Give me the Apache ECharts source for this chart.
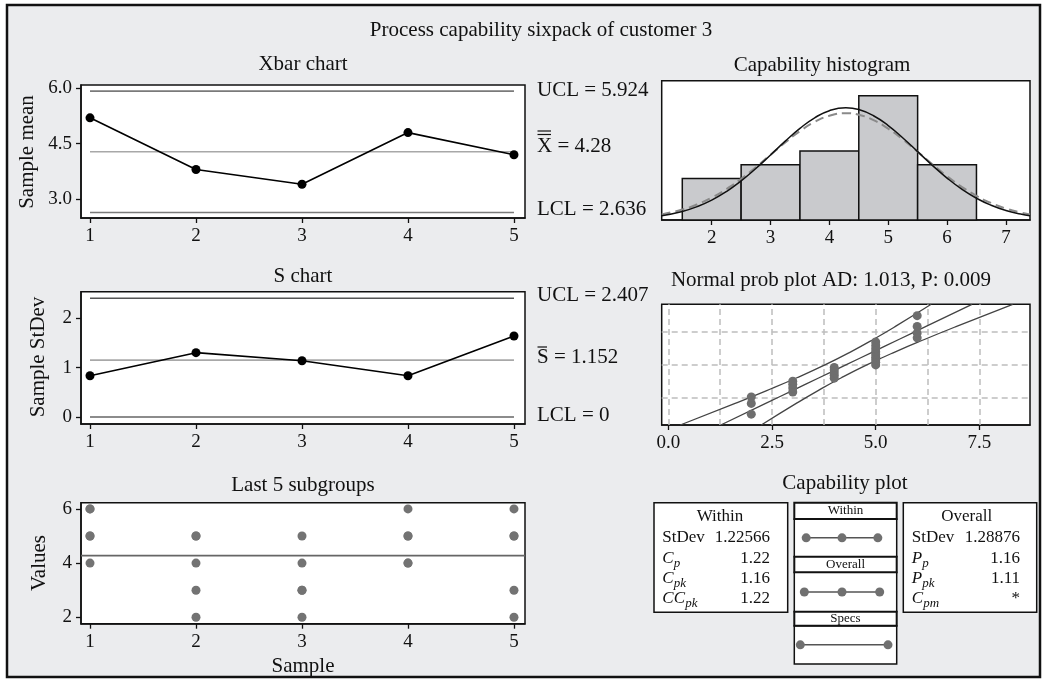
<!DOCTYPE html>
<html><head><meta charset="utf-8">
<script src="https://cdn.jsdelivr.net/npm/echarts@6/dist/echarts.min.js"></script>
<style>html,body{margin:0;padding:0;background:#fff}#c{width:1046px;height:683px}</style>
</head><body><div id="c"></div>
<script>
// ---------- data ----------
const samples=[1,2,3,4,5];
const sampleMeans=[5.2,3.8,3.4,4.8,4.2];
const xbarLimits={ucl:5.924,center:4.28,lcl:2.636};
const xbarTicks=[3,4.5,6];
const sampleStDevs=[0.837,1.304,1.140,0.837,1.643];
const sLimits={ucl:2.407,center:1.152,lcl:0};
const sTicks=[0,1,2];
const subgroupValues=[[6,6,5,5,4],[5,5,4,3,2],[5,4,3,3,2],[6,5,5,4,4],[6,5,5,3,2]];
const valueTicks=[2,4,6];
const histBins=[2,3,4,5,6];
const histCounts=[3,4,5,9,4];
const histTicks=[2,3,4,5,6,7];
const curveX=[1.15,1.5,1.75,2,2.25,2.5,2.75,3,3.25,3.5,3.75,4,4.28,4.5,4.75,5,5.25,5.5,5.75,6,6.25,6.5,6.75,7,7.25,7.41];
const withinCurve=[0.312,0.622,0.967,1.443,2.064,2.835,3.733,4.717,5.716,6.646,7.410,7.927,8.137,8.007,7.560,6.847,5.949,4.958,3.964,3.040,2.236,1.578,1.068,0.694,0.432,0.312];
const overallCurve=[0.405,0.755,1.127,1.618,2.238,2.982,3.825,4.726,5.623,6.444,7.111,7.559,7.739,7.627,7.241,6.621,5.830,4.944,4.038,3.176,2.406,1.755,1.233,0.834,0.544,0.405];
const probValues=[2,2,2,3,3,3,3,4,4,4,4,4,5,5,5,5,5,5,5,5,5,6,6,6,6];
const probScores=[-1.918,-1.499,-1.247,-1.055,-0.896,-0.757,-0.632,-0.515,-0.406,-0.301,-0.199,-0.099,0,0.099,0.199,0.301,0.406,0.515,0.632,0.757,0.896,1.055,1.247,1.499,1.918];
const probZ=[-2.34,-1.5,-1,-0.5,0,0.5,1,1.5,2.36];
const probFit=[1.264,2.347,2.991,3.636,4.28,4.924,5.569,6.213,7.321];
const probLower=[0.287,1.610,2.372,3.100,3.775,4.388,4.950,5.476,6.338];
const probUpper=[2.241,3.084,3.610,4.172,4.785,5.460,6.188,6.950,8.304];
const probTicks=[0,2.5,5,7.5];
const probGridX=[0,1.25,2.5,3.75,5,6.25,7.5];
const probGridZ=[-1.2816,0,1.2816];
const withinInterval=[0.603,4.28,7.957];
const overallInterval=[0.414,4.28,8.146];
const specLimits=[0,9];
const withinLabels=['StDev','C|p','C|pk','CC|pk'];
const withinValues=['1.22566','1.22','1.16','1.22'];
const overallLabels=['StDev','P|p','P|pk','C|pm'];
const overallValues=['1.28876','1.16','1.11','*'];

// ---------- helpers ----------
const FF='"Liberation Serif", "Times New Roman", serif';
const g=[];
function T(x,y,text,size,align,extra){
  const st=Object.assign({text:text,x:0,y:0,fill:'#111',font:(extra&&extra.italic?'italic ':'')+size+'px '+FF,
    align:align||'center',verticalAlign:'middle',textAlign:align||'center',textVerticalAlign:'middle'},{});
  g.push({type:'text',x:x,y:y,rotation:(extra&&extra.rot)||0,z:100,style:st});
}
function L(x1,y1,x2,y2,w,c){g.push({type:'line',z:100,shape:{x1:x1,y1:y1,x2:x2,y2:y2},style:{stroke:c||'#111',lineWidth:w||1}});}
function R(x,y,w,h,lw){g.push({type:'rect',z:90,shape:{x:x,y:y,width:w,height:h},style:{fill:'#fff',stroke:'#111',lineWidth:lw||1.5}});}

// frame
g.push({type:'rect',z:-100,shape:{x:7,y:5,width:1033,height:672},style:{fill:'#ebecee',stroke:'#111',lineWidth:2.5}});
// titles
T(541,30,'Process capability sixpack of customer 3',21);
T(303,64,'Xbar chart',21);
T(303,276,'S chart',21);
T(303,485,'Last 5 subgroups',21);
T(822,65,'Capability histogram',21);
T(831,280,'Normal prob plot AD: 1.013, P: 0.009',21);
T(845,483,'Capability plot',21);
// axis names
T(27,152,'Sample mean',21,'center',{rot:Math.PI/2});
T(38,357,'Sample StDev',21,'center',{rot:Math.PI/2});
T(39,563,'Values',21,'center',{rot:Math.PI/2});
T(303,666,'Sample',21);
// control limit labels
T(537,90,'UCL = '+xbarLimits.ucl,21,'left');
T(537,146,'X = '+xbarLimits.center,21,'left');
L(537.5,131,551,131,1.2); L(537.5,134.5,551,134.5,1.2);
T(537,209,'LCL = '+xbarLimits.lcl,21,'left');
T(537,295,'UCL = '+sLimits.ucl,21,'left');
T(537,357,'S = '+sLimits.center,21,'left');
L(537.5,347,547,347,1.2);
T(537,415,'LCL = '+sLimits.lcl,21,'left');

// capability tables
R(654,502.7,133.7,109.6,1.5);
R(903.3,502.7,133.4,109.6,1.5);
T(720,517,'Within',17);
T(966.7,517,'Overall',17);
const rowY=[537.3,559,578.3,598.3];
function tableRows(labels,values,lx,vx){
  labels.forEach((lab,i)=>{
    const y=rowY[i];
    if(lab.indexOf('|')<0){T(lx,y,lab,17,'left');}
    else{
      const p=lab.split('|');
      T(lx,y,p[0],17,'left',{italic:true});
      const w=p[0].length*11.5+(p[0]==='P'?-1:0);
      T(lx+w,y+5,p[1],13,'left',{italic:true});
    }
    T(vx,y,values[i],17,'right');
  });
}
tableRows(withinLabels,withinValues,662.3,770);
tableRows(overallLabels,overallValues,911.7,1020);
// interval boxes headers
R(794.3,502.7,102.4,16.3,2); T(845.5,511,'Within',13);
R(794.3,556.7,102.4,15.6,2); T(845.5,565,'Overall',13);
R(794.3,611.7,102.4,14,2); T(845.5,619,'Specs',13);

// ---------- grids ----------
const axisLbl={color:'#111',fontFamily:FF,fontSize:19,margin:9};
const tick={show:true,inside:false,length:5,lineStyle:{color:'#111',width:1.3}};
const aline={show:true,onZero:false,lineStyle:{color:'#111',width:1.5}};
const gridBase={show:true,backgroundColor:'#fff',borderColor:'#111',borderWidth:1.5,containLabel:false};
const grids=[
  Object.assign({left:81,top:85,width:444,height:133},gridBase),
  Object.assign({left:81,top:291.7,width:444,height:132.3},gridBase),
  Object.assign({left:81,top:502.7,width:444,height:121},gridBase),
  Object.assign({left:661.7,top:80.7,width:368.3,height:139.3},gridBase),
  Object.assign({left:661.7,top:304.3,width:368.3,height:120.7},gridBase),
  Object.assign({left:794.3,top:519,width:102.4,height:37.7},gridBase),
  Object.assign({left:794.3,top:572.3,width:102.4,height:39.4},gridBase),
  Object.assign({left:794.3,top:625.7,width:102.4,height:38.3},gridBase)
];
function xAx(i,min,max,ticks,fmt,showLbl){
  return {type:'value',gridIndex:i,min:min,max:max,splitLine:{show:false},axisLine:aline,
    axisTick:Object.assign({customValues:ticks},tick),
    axisLabel:Object.assign({show:showLbl!==false,customValues:ticks,formatter:fmt||(v=>String(v))},axisLbl)};
}
function yAx(i,min,max,ticks,fmt,showLbl){
  const a=xAx(i,min,max,ticks,fmt,showLbl);
  return a;
}
const hidden=(i,min,max)=>({type:'value',gridIndex:i,min:min,max:max,show:false,splitLine:{show:false}});
const xAxes=[
  xAx(0,0.915,5.104,samples),
  xAx(1,0.915,5.104,samples),
  xAx(2,0.915,5.104,samples),
  xAx(3,1.15,7.41,histTicks),
  xAx(4,-0.16,8.72,probTicks,v=>v.toFixed(1)),
  hidden(5,-0.616,9.893),hidden(6,-0.616,9.893),hidden(7,-0.616,9.893)
];
const yAxes=[
  yAx(0,2.485,6.09,xbarTicks,v=>v.toFixed(1)),
  yAx(1,-0.142,2.54,sTicks),
  yAx(2,1.764,6.23,valueTicks),
  hidden(3,0,10.1),
  hidden(4,-2.34,2.36),
  hidden(5,-1,1),hidden(6,-1,1),hidden(7,-1,1)
];

function hline(gi,x0,x1,y,color,w){
  return {type:'line',xAxisIndex:gi,yAxisIndex:gi,data:[[x0,y],[x1,y]],showSymbol:false,symbol:'none',silent:true,
    lineStyle:{color:color,width:w||1.5},z:2};
}
const series=[];
// Xbar
series.push(hline(0,1,5,xbarLimits.ucl,'#7a7a7a',1.6));
series.push(hline(0,1,5,xbarLimits.center,'#a8a8a8',1.6));
series.push(hline(0,1,5,xbarLimits.lcl,'#7a7a7a',1.6));
series.push({type:'line',xAxisIndex:0,yAxisIndex:0,data:samples.map((s,i)=>[s,sampleMeans[i]]),symbol:'circle',symbolSize:9,
  lineStyle:{color:'#000',width:1.6},itemStyle:{color:'#000'},z:5,silent:true});
// S
series.push(hline(1,1,5,sLimits.ucl,'#555',1.6));
series.push(hline(1,1,5,sLimits.center,'#a8a8a8',1.6));
series.push(hline(1,1,5,sLimits.lcl,'#666',1.6));
series.push({type:'line',xAxisIndex:1,yAxisIndex:1,data:samples.map((s,i)=>[s,sampleStDevs[i]]),symbol:'circle',symbolSize:9,
  lineStyle:{color:'#000',width:1.6},itemStyle:{color:'#000'},z:5,silent:true});
// Last 5 subgroups
series.push(hline(2,0.915,5.104,xbarLimits.center,'#666',1.8));
const indiv=[];
subgroupValues.forEach((arr,i)=>arr.forEach(v=>indiv.push([samples[i],v])));
series.push({type:'scatter',xAxisIndex:2,yAxisIndex:2,data:indiv,symbolSize:9,itemStyle:{color:'#737373',opacity:1},z:5,silent:true});
// Histogram
series.push({type:'custom',xAxisIndex:3,yAxisIndex:3,data:histBins.map((b,i)=>[b,histCounts[i]]),z:2,silent:true,
  renderItem:function(params,api){
    const x=api.value(0),c=api.value(1);
    const p0=api.coord([x-0.5,c]),p1=api.coord([x+0.5,0]);
    return {type:'rect',shape:{x:p0[0],y:p0[1],width:p1[0]-p0[0],height:p1[1]-p0[1]},
      style:{fill:'#c9cacd',stroke:'#111',lineWidth:1.5}};
  }});
series.push({type:'line',xAxisIndex:3,yAxisIndex:3,data:curveX.map((x,i)=>[x,overallCurve[i]]),smooth:true,showSymbol:false,symbol:'none',
  lineStyle:{color:'#8a8a8a',width:2,type:[9,5]},z:4,silent:true});
series.push({type:'line',xAxisIndex:3,yAxisIndex:3,data:curveX.map((x,i)=>[x,withinCurve[i]]),smooth:true,showSymbol:false,symbol:'none',
  lineStyle:{color:'#111',width:1.5},z:5,silent:true});
// Normal probability plot
const band=(arr)=>({type:'line',xAxisIndex:4,yAxisIndex:4,data:probZ.map((z,i)=>[arr[i],z]),smooth:true,showSymbol:false,symbol:'none',
  lineStyle:{color:'#444',width:1.3},z:4,silent:true});
series.push(band(probLower));
series.push(band(probFit));
series.push(band(probUpper));
series.push({type:'scatter',xAxisIndex:4,yAxisIndex:4,data:probValues.map((v,i)=>[v,probScores[i]]),symbolSize:9,
  itemStyle:{color:'#6e6e6e',opacity:1},z:5,silent:true,
  markLine:{symbol:'none',silent:true,label:{show:false},lineStyle:{type:[6,4],color:'#bdbdbd',width:1.5},z:1,
    data:probGridX.map(v=>({xAxis:v})).concat(probGridZ.map(v=>({yAxis:v})))}});
// Capability interval plots
const ival=(gi,arr)=>({type:'line',xAxisIndex:gi,yAxisIndex:gi,data:arr.map(v=>[v,0]),symbol:'circle',symbolSize:9,
  lineStyle:{color:'#555',width:1.5},itemStyle:{color:'#707070'},z:5,silent:true});
series.push(ival(5,withinInterval));
series.push(ival(6,overallInterval));
series.push(ival(7,specLimits));

const chart=echarts.init(document.getElementById('c'),null,{renderer:'canvas'});
chart.setOption({animation:false,backgroundColor:'#fff',grid:grids,xAxis:xAxes,yAxis:yAxes,series:series,graphic:{elements:g}});
</script></body></html>
